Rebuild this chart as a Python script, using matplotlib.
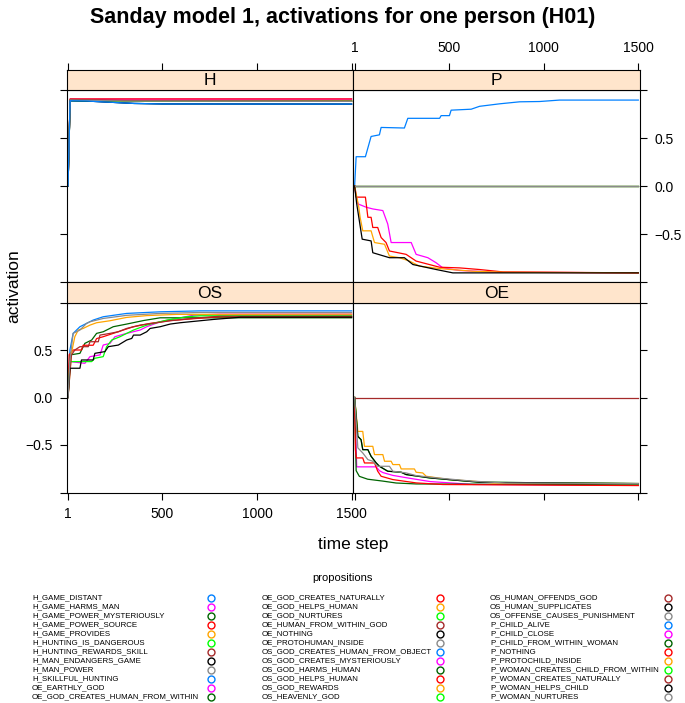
import matplotlib
matplotlib.use("Agg")
import matplotlib.pyplot as plt
from matplotlib.lines import Line2D

plt.rcParams['font.family'] = ['Liberation Sans', 'DejaVu Sans']

# ---------------- data ----------------
TITLE = "Sanday model 1, activations for one person (H01)"
PANELS = ["H", "P", "OS", "OE"]
COLORS = ['#0080ff', '#ff00ff', '#006400', '#ff0000', '#ffa500',
          '#00ff00', '#a52a2a', '#000000', '#8a8a8a']
XTICKS = [1, 500, 1000, 1500]
XTICKLABELS = ["1", "500", "1000", "1500"]
YTICKS = [-1.0, -0.5, 0.0, 0.5, 1.0]
YTICKLABELS = ["", "\u22120.5", "0.0", "0.5", ""]

H_BLUE_T = [1, 12, 100, 200, 350, 500, 1500]
H_BLUE_V = [0, 0.888, 0.885, 0.875, 0.86, 0.855, 0.853]
H_SERIES = {
    "H_GAME_DISTANT": (H_BLUE_T, H_BLUE_V),
    "H_GAME_HARMS_MAN": ([1, 12, 1500], [0, 0.905, 0.905]),
    "H_GAME_POWER_MYSTERIOUSLY": ([1, 12, 150, 1500], [0, 0.89, 0.885, 0.884]),
    "H_GAME_POWER_SOURCE": ([1, 12, 1500], [0, 0.907, 0.907]),
    "H_GAME_PROVIDES": ([1, 12, 200, 1500], [0, 0.9, 0.888, 0.886]),
    "H_HUNTING_IS_DANGEROUS": ([1, 12, 150, 1500], [0, 0.89, 0.885, 0.884]),
    "H_HUNTING_REWARDS_SKILL": ([1, 12, 300, 1500], [0, 0.902, 0.89, 0.884]),
    "H_MAN_ENDANGERS_GAME": (H_BLUE_T, H_BLUE_V),
    "H_MAN_POWER": ([1, 12, 300, 1500], [0, 0.895, 0.885, 0.882]),
    "H_SKILLFUL_HUNTING": (H_BLUE_T, H_BLUE_V),
}

OE_BLACK_T = [1, 18, 35, 44, 71, 88, 115, 132, 176, 247, 273, 397, 538, 661, 1500]
OE_BLACK_V = [0, -0.409, -0.444, -0.549, -0.549, -0.619, -0.689, -0.724, -0.776,
              -0.787, -0.811, -0.846, -0.871, -0.892, -0.906]
OE_SERIES = {
    "OE_EARTHLY_GOD": ([1, 12, 115, 132, 150, 203, 291, 400, 626, 1500],
                       [0, -0.73, -0.73, -0.77, -0.79, -0.82, -0.85, -0.885, -0.915, -0.925]),
    "OE_GOD_CREATES_HUMAN_FROM_WITHIN": ([1, 9, 26, 70, 150, 220, 326, 1500],
                                         [0, -0.77, -0.83, -0.86, -0.88, -0.9, -0.91, -0.92]),
    "OE_GOD_CREATES_NATURALLY": ([1, 5, 10, 44, 53, 106, 123, 141, 203, 326, 467, 1500],
                                 [0, -0.55, -0.636, -0.636, -0.689, -0.689, -0.776, -0.829,
                                  -0.864, -0.899, -0.916, -0.927]),
    "OE_GOD_HELPS_HUMAN": ([1, 18, 44, 53, 97, 106, 150, 159, 194, 203, 238, 247, 317, 326,
                            361, 379, 502, 626, 732, 1500],
                           [0, -0.357, -0.357, -0.514, -0.514, -0.601, -0.601, -0.671, -0.671,
                            -0.706, -0.706, -0.752, -0.752, -0.787, -0.794, -0.829, -0.864,
                            -0.881, -0.899, -0.906]),
    "OE_GOD_NURTURES": (OE_BLACK_T, OE_BLACK_V),
    "OE_HUMAN_FROM_WITHIN_GOD": ([1, 1500], [0, 0]),
    "OE_NOTHING": (OE_BLACK_T, OE_BLACK_V),
    "OE_PROTOHUMAN_INSIDE": ([1, 18, 44, 71, 97, 123, 185, 203, 273, 326, 432, 626, 800, 1500],
                             [0, -0.53, -0.584, -0.654, -0.671, -0.724, -0.724, -0.776, -0.794,
                              -0.822, -0.846, -0.881, -0.9, -0.906]),
}

OS_SERIES = {
    "OS_GOD_CREATES_HUMAN_FROM_OBJECT": ([1, 11, 28, 64, 81, 134, 187, 311, 488, 700, 1500],
                                         [0, 0.5, 0.675, 0.745, 0.762, 0.815, 0.85, 0.885, 0.902, 0.912, 0.912]),
    "OS_GOD_CREATES_MYSTERIOUSLY": ([1, 11, 90, 117, 170, 187, 223, 249, 311, 382, 417, 488, 576, 665, 800, 1500],
                                    [0, 0.378, 0.36, 0.43, 0.448, 0.552, 0.57, 0.64, 0.675, 0.71, 0.745,
                                     0.797, 0.832, 0.867, 0.877, 0.877]),
    "OS_GOD_HARMS_HUMAN": ([1, 11, 64, 90, 126, 152, 187, 240, 311, 400, 488, 1500],
                           [0, 0.448, 0.465, 0.57, 0.605, 0.675, 0.692, 0.745, 0.773, 0.81, 0.839, 0.839]),
    "OS_GOD_HELPS_HUMAN": ([1, 7, 28, 72, 81, 134, 152, 187, 240, 293, 347, 435, 541, 700, 800, 1500],
                           [0, 0.45, 0.5, 0.5, 0.55, 0.55, 0.62, 0.64, 0.675, 0.71, 0.745, 0.78,
                            0.81, 0.835, 0.85, 0.85]),
    "OS_GOD_REWARDS": ([1, 19, 37, 55, 81, 117, 152, 223, 311, 417, 576, 1500],
                       [0, 0.465, 0.64, 0.71, 0.727, 0.762, 0.787, 0.808, 0.843, 0.862, 0.875, 0.877]),
    "OS_HEAVENLY_GOD": ([1, 11, 126, 143, 187, 205, 232, 276, 347, 417, 453, 523, 629, 700, 1500],
                        [0, 0.378, 0.378, 0.413, 0.43, 0.535, 0.605, 0.64, 0.71, 0.762, 0.78, 0.815,
                         0.85, 0.86, 0.86]),
    "OS_HUMAN_OFFENDS_GOD": ([1, 19, 37, 64, 108, 117, 161, 170, 223, 267, 311, 382, 470, 541, 700, 800, 1500],
                             [0, 0.448, 0.5, 0.535, 0.535, 0.587, 0.587, 0.657, 0.675, 0.692, 0.727,
                              0.762, 0.787, 0.808, 0.84, 0.855, 0.855]),
    "OS_HUMAN_SUPPLICATES": ([1, 11, 64, 72, 134, 143, 196, 214, 267, 311, 338, 347, 382, 417, 435,
                              488, 541, 594, 700, 771, 912, 1500],
                             [0, 0.308, 0.308, 0.395, 0.395, 0.465, 0.483, 0.535, 0.552, 0.605, 0.622,
                              0.657, 0.657, 0.692, 0.727, 0.745, 0.773, 0.787, 0.808, 0.822, 0.845, 0.845]),
    "OS_OFFENSE_CAUSES_PUNISHMENT": ([1, 11, 28, 64, 99, 117, 187, 311, 488, 700, 1500],
                                     [0, 0.395, 0.675, 0.71, 0.78, 0.797, 0.832, 0.865, 0.885, 0.895, 0.895]),
}

P_SERIES = {
    "P_CHILD_ALIVE": ([1, 9, 58, 88, 132, 141, 264, 282, 450, 458, 502, 511, 617, 661, 767, 873, 978, 1084, 1500],
                      [0, 0.305, 0.305, 0.516, 0.533, 0.61, 0.604, 0.705, 0.705, 0.733, 0.733, 0.79,
                       0.80, 0.83, 0.856, 0.877, 0.88, 0.895, 0.895]),
    "P_CHILD_CLOSE": ([1, 18, 62, 97, 150, 176, 194, 300, 326, 388, 432, 467, 555, 767, 1500],
                      [0, -0.186, -0.221, -0.239, -0.256, -0.396, -0.589, -0.589, -0.712, -0.747,
                       -0.8, -0.853, -0.88, -0.898, -0.905]),
    "P_CHILD_FROM_WITHIN_WOMAN": ([1, 1500], [0, 0]),
    "P_NOTHING": ([1, 9, 58, 71, 88, 97, 123, 141, 167, 185, 273, 326, 450, 555, 661, 785, 1500],
                  [0, -0.116, -0.116, -0.326, -0.326, -0.432, -0.432, -0.537, -0.589, -0.677,
                   -0.712, -0.782, -0.846, -0.853, -0.87, -0.895, -0.905]),
    "P_PROTOCHILD_INSIDE": ([1, 23, 30, 44, 88, 106, 159, 185, 238, 291, 344, 450, 626, 785, 1500],
                            [0, -0.221, -0.326, -0.467, -0.467, -0.589, -0.607, -0.73, -0.747,
                             -0.782, -0.835, -0.86, -0.888, -0.898, -0.905]),
    "P_WOMAN_CREATES_CHILD_FROM_WITHIN": ([1, 1500], [0, 0]),
    "P_WOMAN_CREATES_NATURALLY": ([1, 1500], [0, 0]),
    "P_WOMAN_HELPS_CHILD": ([1, 12, 41, 88, 97, 185, 264, 309, 432, 520, 1500],
                            [0, -0.186, -0.554, -0.572, -0.695, -0.747, -0.747, -0.818, -0.87,
                             -0.905, -0.905]),
    "P_WOMAN_NURTURES": ([1, 1500], [0, 0]),
}

PANEL_DATA = {"H": H_SERIES, "P": P_SERIES, "OS": OS_SERIES, "OE": OE_SERIES}
ALL_PROPS = sorted(list(H_SERIES) + list(OE_SERIES) + list(OS_SERIES) + list(P_SERIES))

# ---------------- layout ----------------
W, H = 685, 703
fig = plt.figure(figsize=(W / 100, H / 100), dpi=100)


def rect(x0, y0, x1, y1):
    return [x0 / W, 1 - y1 / H, (x1 - x0) / W, (y1 - y0) / H]


COLX = [(66.7, 353.3), (353.3, 640.0)]
ROWS = [((69.5, 90.0), (90.0, 282.0)), ((282.0, 302.5), (302.5, 492.5))]
POS = {"H": (0, 0), "P": (0, 1), "OS": (1, 0), "OE": (1, 1)}
STRIP_BG = '#ffe5cc'
TICKLEN = 5.3
TICKFS = 10
TICKPAD = 4.8

for name in PANELS:
    r, c = POS[name]
    x0, x1 = COLX[c]
    (sy0, sy1), (py0, py1) = ROWS[r]
    ax = fig.add_axes(rect(x0, py0, x1, py1))
    sax = fig.add_axes(rect(x0, sy0, x1, sy1), sharex=ax)
    ax.set_xlim(-6, 1509)
    ax.set_ylim(-1, 1)
    ax.set_xticks(XTICKS, labels=XTICKLABELS)
    ax.set_yticks(YTICKS, labels=YTICKLABELS)
    for sp in list(ax.spines.values()) + list(sax.spines.values()):
        sp.set_linewidth(0.8)
        sp.set_color('black')

    series = PANEL_DATA[name]
    for k, prop in enumerate(series):
        t, v = series[prop]
        col = COLORS[ALL_PROPS.index(prop) % len(COLORS)]
        ax.plot(t, v, color=col, lw=0.9, zorder=2 + k * 0.01)

    # strip
    sax.set_facecolor(STRIP_BG)
    sax.set_ylim(0, 1)
    sax.set_yticks([])
    sax.text(0.5, 0.45, name, transform=sax.transAxes, ha='center', va='center', fontsize=12.5)

    top_row = (r == 0)
    left_col = (c == 0)
    common = dict(direction='out', length=TICKLEN, width=0.8, labelsize=TICKFS, pad=TICKPAD)
    ax.tick_params(axis='x', top=False, labeltop=False,
                   bottom=not top_row, labelbottom=(not top_row and left_col), **common)
    sax.tick_params(axis='x', bottom=False, labelbottom=False,
                    top=top_row, labeltop=(top_row and not left_col), **common)
    ax.tick_params(axis='y', left=left_col, labelleft=(left_col and not top_row),
                   right=not left_col, labelright=(not left_col and top_row), **common)

fig.text(0.5, 1 - 18 / H, TITLE, ha='center', va='center', fontsize=15.5, fontweight='bold')
fig.text(353.3 / W, 1 - 544 / H, "time step", ha='center', va='center', fontsize=12.5)
fig.text(14 / W, 1 - 286 / H, "activation", ha='center', va='center', fontsize=12.5, rotation=90)

# legend
LEG_TITLE = "propositions"
fig.text(342 / W, 1 - 578 / H, LEG_TITLE, ha='center', va='center', fontsize=8)
TEXT_X = [32, 262, 490]
MARK_X = [211, 440, 668]
ROW0, ROWDY, NROW = 598, 9.0, 12
for i, prop in enumerate(ALL_PROPS):
    cc, rr = divmod(i, NROW)
    y = 1 - (ROW0 + rr * ROWDY) / H
    fig.text(TEXT_X[cc] / W, y, prop, ha='left', va='center', fontsize=5.7)
    fig.add_artist(Line2D([MARK_X[cc] / W], [y], marker='o', markersize=5, fillstyle='none',
                          markeredgewidth=1.0, color=COLORS[i % len(COLORS)],
                          transform=fig.transFigure, linestyle='none'))

fig.savefig("out.png", dpi=100)
